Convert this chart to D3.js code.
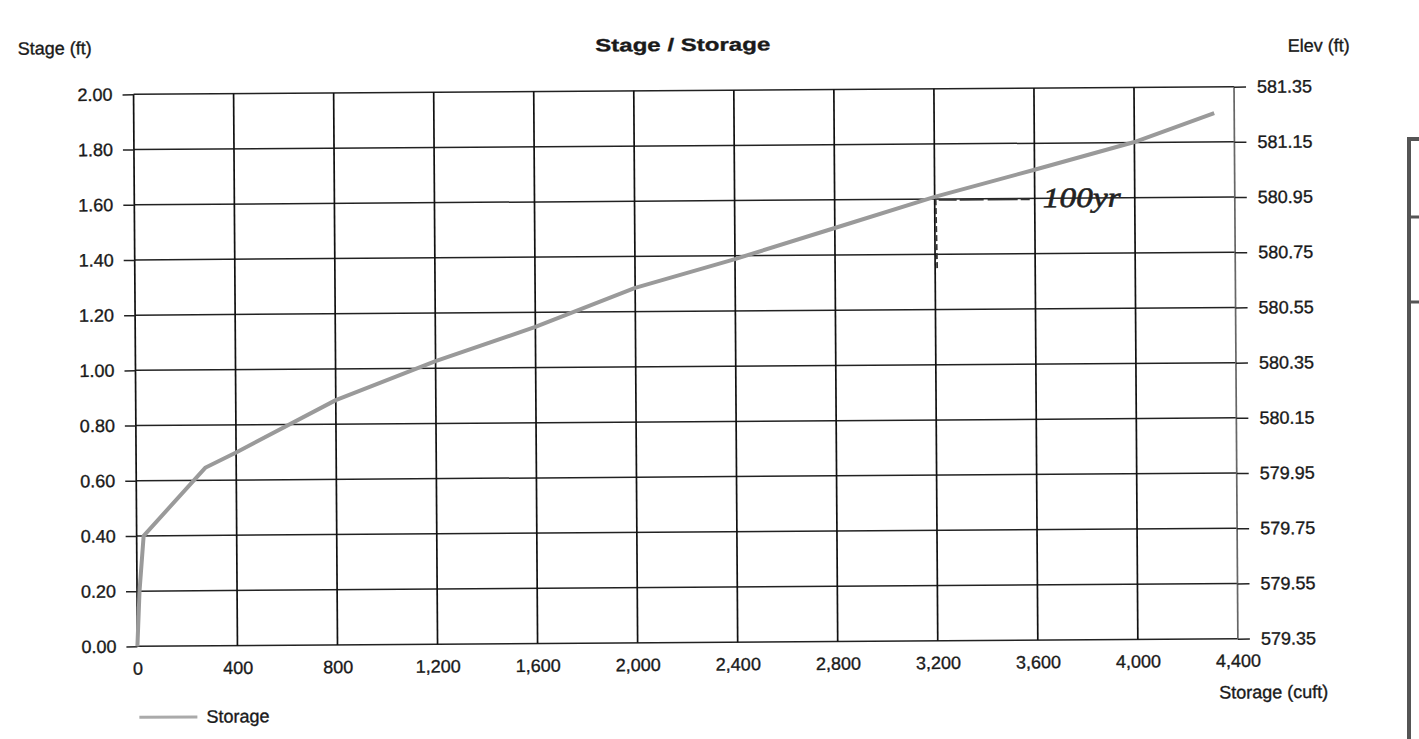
<!DOCTYPE html>
<html>
<head>
<meta charset="utf-8">
<script src="https://cdn.jsdelivr.net/npm/d3@7"></script>
<style>
  body { margin: 0; background: #fff; }
  svg { display: block; font-family: "Liberation Sans", Arial, sans-serif; }
  .tick text { font-size: 18px; fill: #1a1a1a; stroke: #1a1a1a; stroke-width: 0.35; }
  .lbl { font-size: 18px; fill: #1a1a1a; stroke: #1a1a1a; stroke-width: 0.35; }
</style>
</head>
<body>
<svg id="chart"></svg>
<script>
// values
var storage = [0, 10, 28, 276, 400, 800, 1200, 1600, 2000, 2400, 2800, 3200, 3600, 4000, 4320];
var stage   = [0, 0.20, 0.40, 0.645, 0.70, 0.887, 1.026, 1.147, 1.286, 1.388, 1.498, 1.608, 1.704, 1.802, 1.905];

var storageTicks = [0, 400, 800, 1200, 1600, 2000, 2400, 2800, 3200, 3600, 4000, 4400];
var stageTicks = [0, 0.2, 0.4, 0.6, 0.8, 1.0, 1.2, 1.4, 1.6, 1.8, 2.0];
var elevTicks = [579.35, 579.55, 579.75, 579.95, 580.15, 580.35, 580.55, 580.75, 580.95, 581.15, 581.35];

// handwritten 100yr mark
var markX = [3200, 3580];
var markY = [1.597, 1.597];
var dropY = [1.60, 1.35];

var screen = {width: 1419, height: 739};
var plot = {left: 135.5, right: 1236, top: 90.5, bottom: 642.5};

var svg = d3.select("#chart")
    .attr("width", screen.width)
    .attr("height", screen.height);

// the scan is a little tilted
var g = svg.append("g")
    .attr("transform", "rotate(-0.4,685,371)");

var xScale = d3.scaleLinear().domain([0, 4400]).range([plot.left, plot.right]);
var yScale = d3.scaleLinear().domain([0, 2]).range([plot.bottom, plot.top]);
var elevScale = d3.scaleLinear().domain([579.35, 581.35]).range([plot.bottom, plot.top]);

// grid
g.append("g").selectAll("line")
    .data(stageTicks).enter().append("line")
    .attr("x1", plot.left).attr("x2", plot.right)
    .attr("y1", function(d){ return yScale(d); })
    .attr("y2", function(d){ return yScale(d); })
    .attr("stroke", "#222").attr("stroke-width", 1.5);

g.append("g").selectAll("line")
    .data(storageTicks).enter().append("line")
    .attr("x1", function(d){ return xScale(d); })
    .attr("x2", function(d){ return xScale(d); })
    .attr("y1", plot.top).attr("y2", plot.bottom)
    .attr("stroke", function(d){ return d == 4400 ? "#666" : "#111"; })
    .attr("stroke-width", 1.7);

// axes
var leftAxis = d3.axisLeft(yScale).tickValues(stageTicks).tickSize(11).tickPadding(10)
    .tickFormat(d3.format(".2f"));
var la = g.append("g").attr("transform", "translate(" + plot.left + ",0)").call(leftAxis);

var rightAxis = d3.axisRight(elevScale).tickValues(elevTicks).tickSize(12).tickPadding(11)
    .tickFormat(d3.format(".2f"));
var ra = g.append("g").attr("transform", "translate(" + plot.right + ",0)").call(rightAxis);

var bottomAxis = d3.axisBottom(xScale).tickValues(storageTicks).tickSize(0)
    .tickFormat(d3.format(","));
var ba = g.append("g").attr("transform", "translate(0," + plot.bottom + ")").call(bottomAxis);
ba.selectAll("text").attr("y", 22).attr("dy", "0.35em");

[la, ra, ba].forEach(function(a){
    a.select(".domain").remove();
    a.selectAll(".tick line").attr("stroke", "#222").attr("stroke-width", 1.5);
    a.attr("font-family", null).attr("font-size", null);
});

// storage curve
var lineGenerator = d3.line()
    .x(function(d, i){ return xScale(storage[i]); })
    .y(function(d, i){ return yScale(stage[i]); });

g.append("path")
    .datum(stage)
    .attr("d", lineGenerator)
    .attr("fill", "none")
    .attr("stroke", "#9a9a9a")
    .attr("stroke-width", 4)
    .attr("stroke-linejoin", "round");

// hand annotation
g.append("line")
    .attr("x1", xScale(markX[0]) + 4).attr("x2", xScale(markX[1]))
    .attr("y1", yScale(markY[0])).attr("y2", yScale(markY[1]))
    .attr("stroke", "#333").attr("stroke-width", 1.8)
    .attr("stroke-dasharray", "18 3 24 4 30 3");
g.append("line")
    .attr("x1", xScale(markX[0]) + 1).attr("x2", xScale(markX[0]) + 2)
    .attr("y1", yScale(dropY[0])).attr("y2", yScale(dropY[1]))
    .attr("stroke", "#333").attr("stroke-width", 1.8)
    .attr("stroke-dasharray", "6 3");
g.append("text")
    .text("100yr")
    .attr("x", xScale(markX[1]) + 13)
    .attr("y", yScale(markY[0]) + 8)
    .attr("font-family", "Liberation Serif, serif")
    .attr("font-style", "italic")
    .attr("font-size", 28)
    .attr("textLength", 78)
    .attr("lengthAdjust", "spacingAndGlyphs")
    .attr("fill", "#222")
    .attr("stroke", "#222").attr("stroke-width", 0.6);

// labels
g.append("text").attr("class", "lbl")
    .text("Stage / Storage")
    .attr("x", 685).attr("y", 51)
    .attr("text-anchor", "middle")
    .attr("font-weight", "bold")
    .attr("font-size", 23)
    .attr("textLength", 175)
    .attr("lengthAdjust", "spacingAndGlyphs");

g.append("text").attr("class", "lbl")
    .text("Stage (ft)")
    .attr("x", 20).attr("y", 50);

g.append("text").attr("class", "lbl")
    .text("Elev (ft)")
    .attr("x", 1290).attr("y", 56);

g.append("text").attr("class", "lbl")
    .text("Storage (cuft)")
    .attr("x", 1326).attr("y", 696)
    .attr("dy", "0.35em")
    .attr("text-anchor", "end");

// legend
g.append("line")
    .attr("x1", 137).attr("x2", 195)
    .attr("y1", 713.5).attr("y2", 713.5)
    .attr("stroke", "#aaa").attr("stroke-width", 3);
g.append("text").attr("class", "lbl")
    .text("Storage")
    .attr("x", 204).attr("y", 713)
    .attr("dy", "0.35em");

// edge of a table cut off at the right
var box = svg.append("g");
box.append("rect")
    .attr("x", 1409).attr("y", 139)
    .attr("width", 30).attr("height", 640)
    .attr("fill", "none").attr("stroke", "#555").attr("stroke-width", 4);
box.selectAll(".row")
    .data([217, 302]).enter().append("line")
    .attr("x1", 1409).attr("x2", 1419)
    .attr("y1", function(d){ return d; }).attr("y2", function(d){ return d; })
    .attr("stroke", "#555").attr("stroke-width", 3);
</script>
</body>
</html>
